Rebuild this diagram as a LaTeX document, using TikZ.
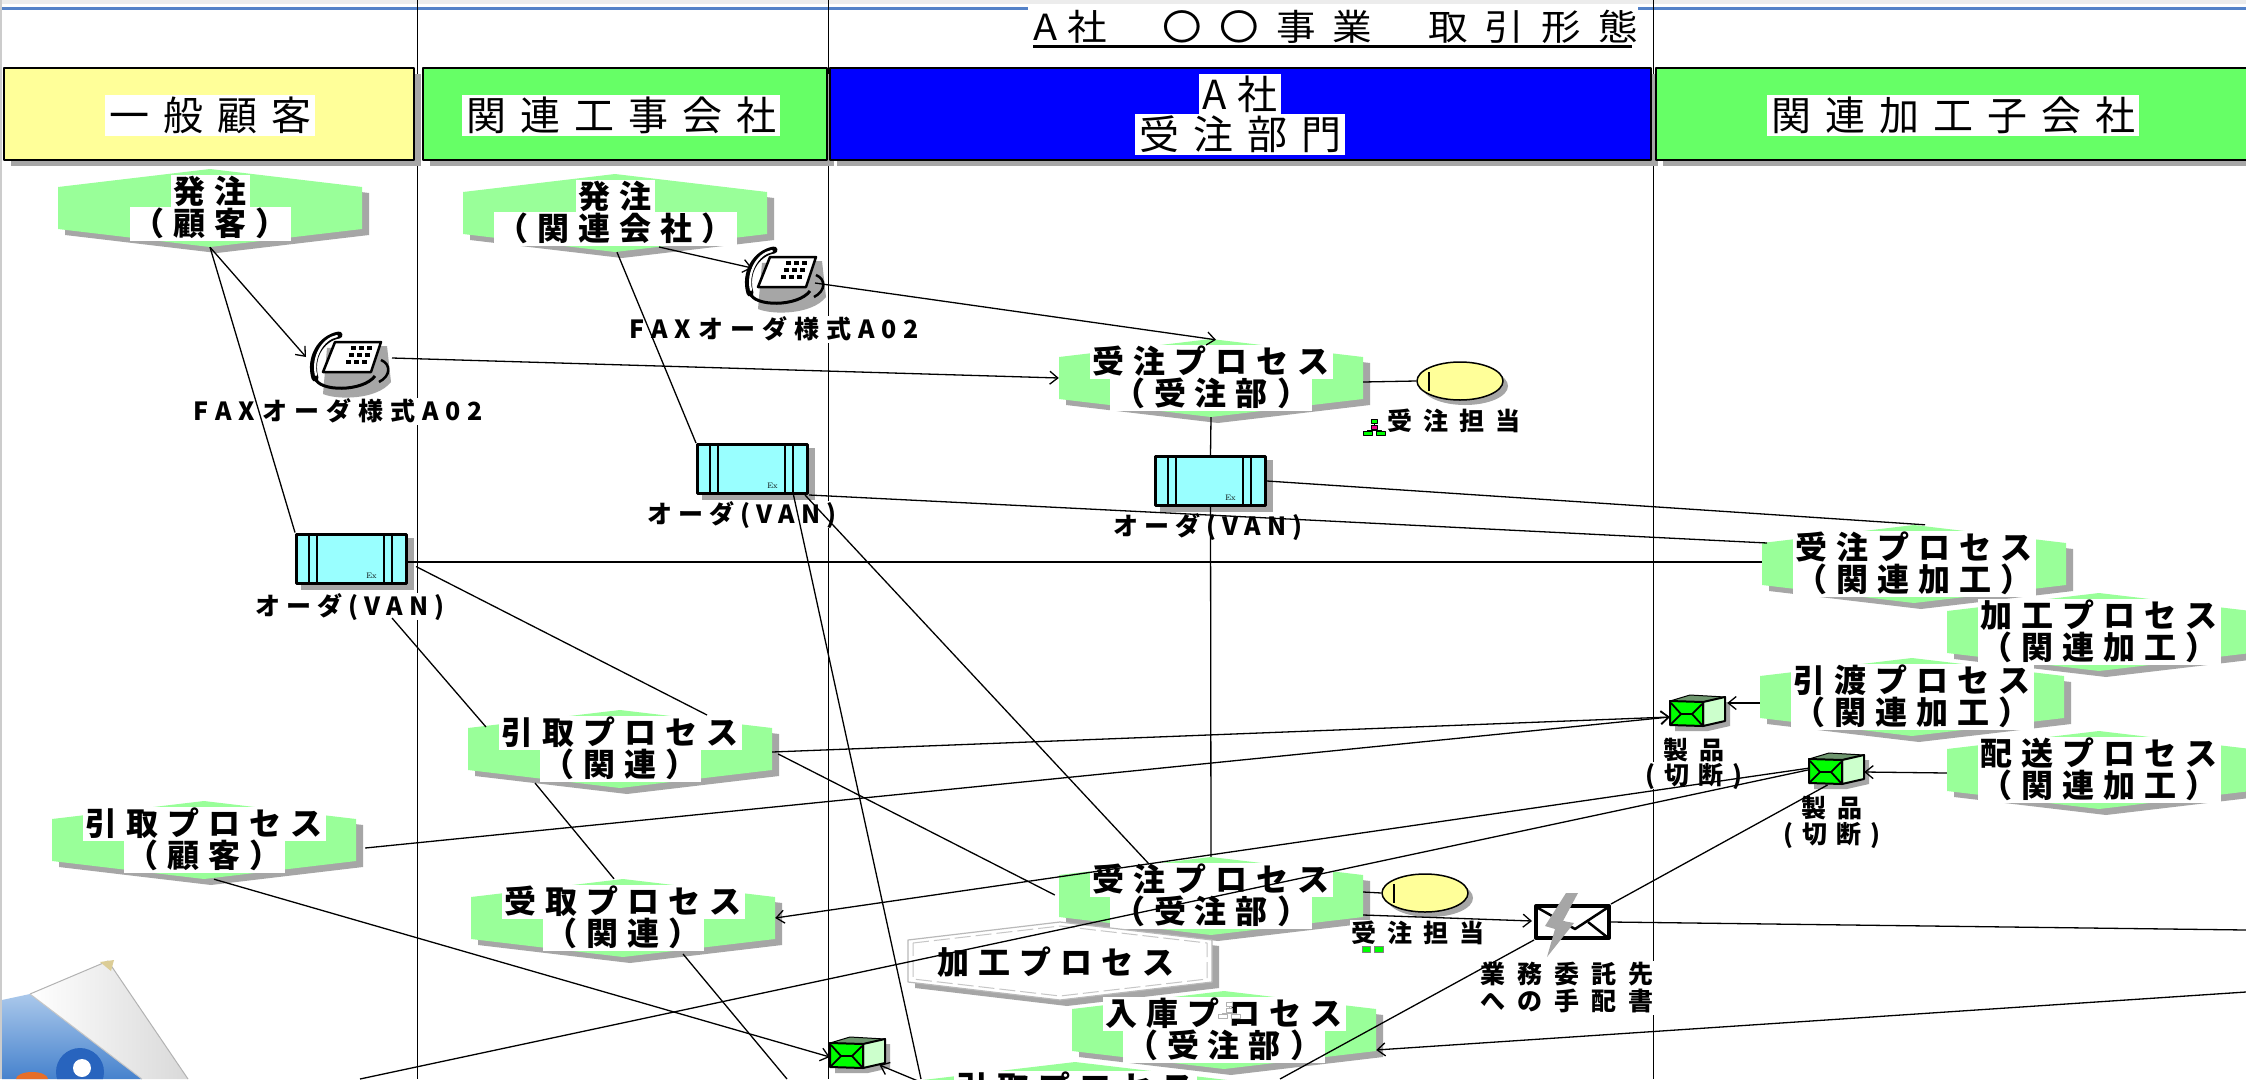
\documentclass[tikz,border=0pt]{standalone}
\usepackage{fontspec}
\usetikzlibrary{arrows.meta,calc,shapes.geometric}
\newfontfamily\jp{Noto Sans CJK JP}
\newfontfamily\jpt{Noto Sans CJK JP}[FakeStretch=1.1]

\definecolor{hdryellow}{RGB}{255,255,153}
\definecolor{hdrgreen}{RGB}{102,255,102}
\definecolor{hdrblue}{RGB}{0,0,255}
\definecolor{procgreen}{RGB}{153,255,153}
\definecolor{shd}{RGB}{166,166,166}
\definecolor{vancyan}{RGB}{153,255,255}
\definecolor{topblue}{RGB}{84,130,200}
\definecolor{boxgreen}{RGB}{0,255,0}
\definecolor{boxlight}{RGB}{204,255,204}
\definecolor{boxtop}{RGB}{110,150,110}
\definecolor{curlA}{RGB}{170,200,235}
\definecolor{curlB}{RGB}{70,130,205}
\definecolor{logoblue}{RGB}{40,100,190}
\definecolor{logoorange}{RGB}{230,110,40}
\definecolor{curltip}{RGB}{220,205,150}

% letter-spaced text: \lsp{kern in pt}{characters}
\newdimen\lspk
\def\lsp#1#2{\lspk=#1pt\relax\lspa#2\relax}
\def\lspa#1{#1\lspb}
\def\lspb#1{\ifx#1\relax\else\kern\lspk#1\expandafter\lspb\fi}

% flat hexagon used for process boxes
\newcommand\hexdraw[3][]{\path[#1] ({#2-152},{#3-21}) -- ({#2},{#3-39}) -- ({#2+152},{#3-21}) -- ({#2+152},{#3+21}) -- ({#2},{#3+39}) -- ({#2-152},{#3+21}) -- cycle;}
\newcommand\hexinner[3][]{\path[#1] ({#2-147},{#3-18}) -- ({#2},{#3-35}) -- ({#2+147},{#3-18}) -- ({#2+147},{#3+18}) -- ({#2},{#3+35}) -- ({#2-147},{#3+18}) -- cycle;}

\tikzset{
  hexbox/.style={inner sep=0, minimum width=304, minimum height=78},
  ptext/.style={fill=white, inner xsep=3, inner ysep=1, text height=27, text depth=5,
    font={\jp\bfseries\fontsize{32}{32}\selectfont}},
  hdrtext/.style={fill=white, inner xsep=4, inner ysep=1, text height=35, text depth=4,
    font={\jp\fontsize{40}{40}\selectfont}},
  lbl/.style={fill=white, inner xsep=2, inner ysep=1, text height=22, text depth=3,
    font={\jp\bfseries\fontsize{25}{25}\selectfont}},
  vanbox/.style={draw, line width=3, fill=vancyan, minimum width=110, minimum height=49, inner sep=0},
  ellnode/.style={ellipse, draw, line width=1.5, fill=hdryellow, minimum width=86, minimum height=38, inner sep=0},
  lane/.style={line width=1},
  conn/.style={line width=1.3},
  arr/.style={-{Straight Barb[length=8pt,width=13pt]}},
}

% process: name, x, y, first line, second line
\newcommand\proc[5]{%
  \hexdraw[fill=shd]{#2+7}{#3+6}
  \hexdraw[fill=procgreen]{#2}{#3}
  \node[hexbox] (#1) at (#2,#3) {};
  \node[ptext] (#1-a) at (#2,#3-16) {\lsp{9}{#4}};
  \node[ptext] (#1-b) at (#2,#3+16) {\lsp{9}{#5}};
}

% order data box: name, centre x, centre y
\newcommand\van[3]{%
  \fill[shd] ({#2-50.5},{#3-21}) rectangle ({#2+62.5},{#3+31});
  \node[vanbox] (#1) at (#2,#3) {};
  \draw[line width=1.2] ({#2-42.5},{#3-25}) -- ({#2-42.5},{#3+25})
     ({#2-34.5},{#3-25}) -- ({#2-34.5},{#3+25})
     ({#2+32.5},{#3-25}) -- ({#2+32.5},{#3+25})
     ({#2+40.5},{#3-25}) -- ({#2+40.5},{#3+25});
  \node[font=\fontsize{8}{8}\selectfont, inner sep=0] at ({#2+20},{#3+17}) {Ex};
}

% fax machine icon: name, centre x, centre y
\newcommand\faxicon[3]{%
  \node[inner sep=0, minimum width=93, minimum height=61] (#1) at (#2,#3) {};
  \begin{scope}[shift={(#2,#3)}]
    \fill[shd] (-18,-14) -- (42,-16) -- (46,20) .. controls (32,38) and (-8,38) .. (-22,32) -- cycle;
    \filldraw[fill=white, line width=2.5] (-10,-20) -- (36,-20) -- (26,10) -- (-22,10) -- cycle;
    \foreach \i in {0,1,2} \foreach \j in {0,1,2}
      \fill ({6+8*\i-2.5*\j},{-16+7*\j}) rectangle ++(5,4);
    \draw[line width=7, line cap=round] (-6,-27) .. controls (-24,-24) and (-36,-4) .. (-30,16);
    \draw[white, line width=2.2, line cap=round] (-8,-26) .. controls (-23,-23) and (-33,-4) .. (-29,13);
    \draw[line width=3] (-30,16) .. controls (-26,30) and (18,30) .. (30,14);
    \draw[line width=2.5] (36,-2) .. controls (46,2) and (46,14) .. (34,20);
  \end{scope}
}

% product parcel: name, top-left x, top-left y
\newcommand\prodbox[3]{%
  \fill[shd] ({#2+5},{#3+10}) -- ({#2+60},{#3+7}) -- ({#2+60},{#3+31}) -- ({#2+38},{#3+36}) -- ({#2+5},{#3+36}) -- cycle;
  \filldraw[fill=boxtop, line width=1] ({#2},{#3+6}) -- ({#2+20},{#3}) -- ({#2+55},{#3+2}) -- ({#2+33},{#3+7}) -- cycle;
  \filldraw[fill=boxlight, line width=2] ({#2+33},{#3+7}) -- ({#2+55},{#3+2}) -- ({#2+55},{#3+26}) -- ({#2+33},{#3+31}) -- cycle;
  \filldraw[fill=boxgreen, line width=2] ({#2},{#3+6}) -- ({#2+33},{#3+7}) -- ({#2+33},{#3+31}) -- ({#2},{#3+30}) -- cycle;
  \draw[line width=1.8] ({#2+1},{#3+8}) -- ({#2+11},{#3+19}) -- ({#2+22},{#3+19}) -- ({#2+32},{#3+9});
  \draw[line width=1.8] ({#2+1},{#3+29}) -- ({#2+11},{#3+19}) ({#2+22},{#3+19}) -- ({#2+32},{#3+30});
  \node[inner sep=0, minimum width=55, minimum height=32] (#1) at ({#2+27.5},{#3+16}) {};
}

% small organisation chart symbol: top-left x, y, fill colours, line colour
\newcommand\orgicon[5]{%
  \draw[line width=0.6, #5] ({#1+11},{#2+4}) -- ({#1+11},{#2+6}) ({#1+11},{#2+10}) -- ({#1+11},{#2+11}) ({#1+4},{#2+12}) -- ({#1+4},{#2+11}) -- ({#1+18},{#2+11}) -- ({#1+18},{#2+12});
  \filldraw[fill=#3, draw=#5, line width=0.5] ({#1+8},{#2}) rectangle ({#1+14},{#2+4});
  \filldraw[fill=#4, draw=#5, line width=0.5] ({#1+8},{#2+6}) rectangle ({#1+14},{#2+10});
  \filldraw[fill=#3, draw=#5, line width=0.5] ({#1},{#2+12}) rectangle ({#1+9},{#2+16});
  \filldraw[fill=#3, draw=#5, line width=0.5] ({#1+13},{#2+12}) rectangle ({#1+22},{#2+16});
}

\begin{document}
\begin{tikzpicture}[x=1pt, y=-1pt, line join=round]
\useasboundingbox (0,0) rectangle (2246,1079);
\clip (0,0) rectangle (2246,1079);
\fill[white] (0,0) rectangle (2246,1079);

% window frame
\fill[gray!15] (0,0) rectangle (2246,3.5);
\draw[topblue, line width=3] (0,8.5) -- (2246,8.5);
\draw[gray!40, line width=2] (1,0) -- (1,1079);

% swimlane separators
\draw[lane] (417,0) -- (417,1079);
\draw[lane] (828,0) -- (828,1079);
\draw[lane] (1653,0) -- (1653,1079);

% lane headers
\fill[shd] (11,74) rectangle (421,166);
\filldraw[fill=hdryellow, line width=2] (4,68) rectangle (414,160);
\fill[shd] (430,74) rectangle (834,166);
\filldraw[fill=hdrgreen, line width=2] (423,68) rectangle (827,160);
\fill[shd] (837,74) rectangle (1658,166);
\filldraw[fill=hdrblue, line width=2] (830,68) rectangle (1651,160);
\fill[shd] (1663,74) rectangle (2259,166);
\filldraw[fill=hdrgreen, line width=2] (1656,68) rectangle (2252,160);

\node[hdrtext] (h1) at (210,115) {\lsp{14}{一般顧客}};
\node[hdrtext] (h2) at (621,115) {\lsp{14}{関連工事会社}};
\node[hdrtext] (h3a) at (1240,94) {\lsp{10}{A社}};
\node[hdrtext] (h3b) at (1240,134) {\lsp{14}{受注部門}};
\node[hdrtext] (h4) at (1953,115) {\lsp{14}{関連加工子会社}};

% title
\fill[white] (1028,5) rectangle (1638,49);
\node[anchor=base west, inner sep=0, font={\jpt\fontsize{36}{36}\selectfont}] (ttl) at (1033,40)
  {\lsp{10}{A社}\kern56pt\lsp{17}{〇〇事業}\kern56pt\lsp{17}{取引形態}};
\draw[line width=3] (1033,46) -- (1632,46);

% processes
\proc{pA}{210}{208}{発注}{（顧客）}
\proc{pB}{615}{213}{発注}{（関連会社）}
\proc{pC}{1211}{378}{受注プロセス}{（受注部）}
\proc{pD}{1914}{564}{受注プロセス}{（関連加工）}
\proc{pE}{2099}{632}{加工プロセス}{（関連加工）}
\proc{pF}{1912}{697}{引渡プロセス}{（関連加工）}
\proc{pG}{2099}{770}{配送プロセス}{（関連加工）}
\proc{pH}{620}{749}{引取プロセス}{（関連）}
\proc{pI}{204}{840}{引取プロセス}{（顧客）}
\proc{pJ}{623}{918}{受取プロセス}{（関連）}
\proc{pK}{1211}{896}{受注プロセス}{（受注部）}

% inactive process
\hexdraw[fill=shd]{1067}{967}
\hexdraw[fill=white, draw=gray!55, line width=1.2]{1060}{961}
\hexinner[draw=gray!45, line width=1, dash pattern=on 16pt off 5pt]{1060}{961}
\node[hexbox] (pL) at (1060,961) {};
\node[inner sep=0, font={\jp\bfseries\fontsize{32}{32}\selectfont}] (pL-a) at (1056,962) {\lsp{9}{加工プロセス}};

\proc{pM}{1224}{1030}{入庫プロセス}{（受注部）}
\orgicon{1218}{1002}{white}{white}{gray!60}

\hexdraw[fill=shd]{1082}{1107}
\hexdraw[fill=procgreen]{1075}{1101}
\node[hexbox] (pN) at (1075,1101) {};
\node[ptext] (pN-a) at (1075,1088) {\lsp{9}{引取プロセス}};

% order data
\van{v1}{351.5}{558.5}
\van{v2}{752.5}{469}
\van{v3}{1210.5}{481}

% fax orders
\faxicon{f1}{345}{362}
\faxicon{f2}{780}{277}

% persons in charge
\fill[shd] (1465,386) ellipse [x radius=43, y radius=19];
\node[ellnode] (e1) at (1460,381) {};
\draw[line width=1.2] (1429,372) -- (1429,391);
\fill[shd] (1430,898) ellipse [x radius=43, y radius=19];
\node[ellnode] (e2) at (1425,893) {};
\draw[line width=1.2] (1394,884) -- (1394,903);

% products
\prodbox{s1}{1670}{695}
\prodbox{s2}{1809}{753}
\prodbox{s3}{830}{1037}

% outsourcing instruction
\node[draw, line width=4, fill=white, minimum width=73, minimum height=32, inner sep=0] (w1) at (1572.5,922) {};
\draw[line width=2.5] (1538,908) -- (1575,929) -- (1607,908);
\draw[line width=2.5] (1607,937) -- (1588,922);
\fill[shd] (1566,893) -- (1578,893) -- (1563,921) -- (1574,923) -- (1547,957) -- (1555,929) -- (1545,926) -- cycle;

% labels
\node[lbl] (f1l) at (338,411) {\lsp{7}{FAXオーダ様式A02}};
\node[lbl] (f2l) at (774,329) {\lsp{7}{FAXオーダ様式A02}};
\node[lbl] (v1l) at (350,606) {\lsp{6}{オーダ(VAN)}};
\node[lbl] (v2l) at (742,514) {\lsp{6}{オーダ(VAN)}};
\node[lbl] (v3l) at (1208,526) {\lsp{6}{オーダ(VAN)}};
\node[lbl] (e1l) at (1454,421) {\lsp{11}{受注担当}};
\orgicon{1363}{419}{boxgreen}{magenta}{black}
\node[lbl] (e2l) at (1418,933) {\lsp{11}{受注担当}};
\filldraw[fill=boxgreen, draw=black!50, line width=0.5] (1362,946) rectangle (1370,952) (1374,946) rectangle (1383,952);
\node[lbl] (s1la) at (1694,750) {\lsp{11}{製品}};
\node[lbl] (s1lb) at (1694,775) {\lsp{9}{(切断)}};
\node[lbl] (s2la) at (1832,808) {\lsp{11}{製品}};
\node[lbl] (s2lb) at (1832,834) {\lsp{9}{(切断)}};
\node[lbl] (w1la) at (1567,974) {\lsp{12}{業務委託先}};
\node[lbl] (w1lb) at (1567,1001) {\lsp{12}{への手配書}};

% free ends leaving the sheet
\coordinate (cB) at (921,1079);
\coordinate (cC) at (360,1079);
\coordinate (cD) at (1280,1079);
\coordinate (cE) at (2246,930);
\coordinate (cF) at (2246,992);
\coordinate (cG) at (787,1079);

% connectors
\draw[conn,arr] (pA.south) -- ([shift={(-39,-5)}]f1.center);
\draw[conn] (pA.south) -- (v1.north west);
\draw[conn,arr] ([shift={(47,-4)}]f1.center) -- (pC.west);
\draw[conn,arr] ([shift={(44,34)}]pB.center) -- ([shift={(-28,-9)}]f2.center);
\draw[conn] ([shift={(2,0)}]pB.south) -- (v2.north west);
\draw[conn,arr] ([shift={(35,6)}]f2.center) -- ([shift={(5,1)}]pC.north);
\draw[conn] ([shift={(0,4)}]pC.east) -- (e1.west);
\draw[conn] (pC.south) -- (v3.north);
\draw[conn] ([shift={(0,3.5)}]v1.east) -- ([shift={(0,-2)}]pD.west);
\draw[conn] (v2.south east) -- ([shift={(-147,-21)}]pD.center);
\draw[conn] (v3.east) -- ([shift={(11,0)}]pD.north);
\draw[conn] ([shift={(8,8)}]v1.east) -- ([shift={(87,-34)}]pH.center);
\draw[conn] ([shift={(42,12)}]v1l.center) -- ([shift={(-134,-22)}]pH.center);
\draw[conn] ([shift={(41,0)}]v2.south) -- (cB);
\draw[conn] ([shift={(-4,0)}]v2.south east) -- ([shift={(-62,-32)}]pK.center);
\draw[conn] (v3.south) -- (pK.north);
\draw[conn,arr] ([shift={(0,3)}]pH.east) -- ([shift={(0,6)}]s1.west);
\draw[conn] ([shift={(6,5)}]pH.east) -- ([shift={(-4,-1)}]pK.west);
\draw[conn,arr] ([shift={(9,8)}]pI.east) -- ([shift={(0,6)}]s1.west);
\draw[conn,arr] ([shift={(0,6)}]pF.west) -- ([shift={(2,-8)}]s1.east);
\draw[conn,arr] ([shift={(0,3)}]pG.west) -- ([shift={(0,3)}]s2.east);
\draw[conn,arr] ([shift={(1,-1)}]s2.west) -- (pJ.east);
\draw[conn] ([shift={(-1,1)}]s2.west) -- (cC);
\draw[conn] ([shift={(-9,16)}]s2.center) -- (w1.north east);
\draw[conn] (w1.south west) -- (cD);
\draw[conn,arr] ([shift={(0,19)}]pK.east) -- ([shift={(-2,-1)}]w1.west);
\draw[conn] ([shift={(0,-4)}]pK.east) -- (e2.west);
\draw[conn] (w1.east) -- (cE);
\draw[conn,arr] (cF) -- ([shift={(0,20)}]pM.east);
\draw[conn,arr] ([shift={(10,0)}]pI.south) -- ([shift={(0,4)}]s3.west);
\draw[conn,arr] ([shift={(0,-18)}]pN.west) -- ([shift={(22,12)}]s3.center);
\draw[conn] ([shift={(-85,34)}]pH.center) -- ([shift={(-9,0)}]pJ.north);
\draw[conn] ([shift={(60,36)}]pJ.center) -- (cG);

% page curl in the corner
\shade[top color=curlA, bottom color=curlB] (2,1000) -- (30,994) -- (142,1079) -- (2,1079) -- cycle;
\begin{scope}
  \clip (2,1000) -- (30,994) -- (142,1079) -- (2,1079) -- cycle;
  \fill[logoblue] (80,1072) circle (24);
  \fill[white] (82,1068) circle (9);
  \fill[logoorange] (32,1079) ellipse [x radius=16, y radius=7];
\end{scope}
\shade[left color=white, right color=gray!30] (30,994) -- (108,961) -- (188,1079) -- (142,1079) -- cycle;
\draw[gray!60, line width=1] (30,994) -- (108,961) -- (188,1079);
\draw[gray!45, line width=1] (30,994) -- (142,1079);
\fill[curltip] (100,962) -- (114,960) -- (111,971) -- cycle;
\end{tikzpicture}
\end{document}
